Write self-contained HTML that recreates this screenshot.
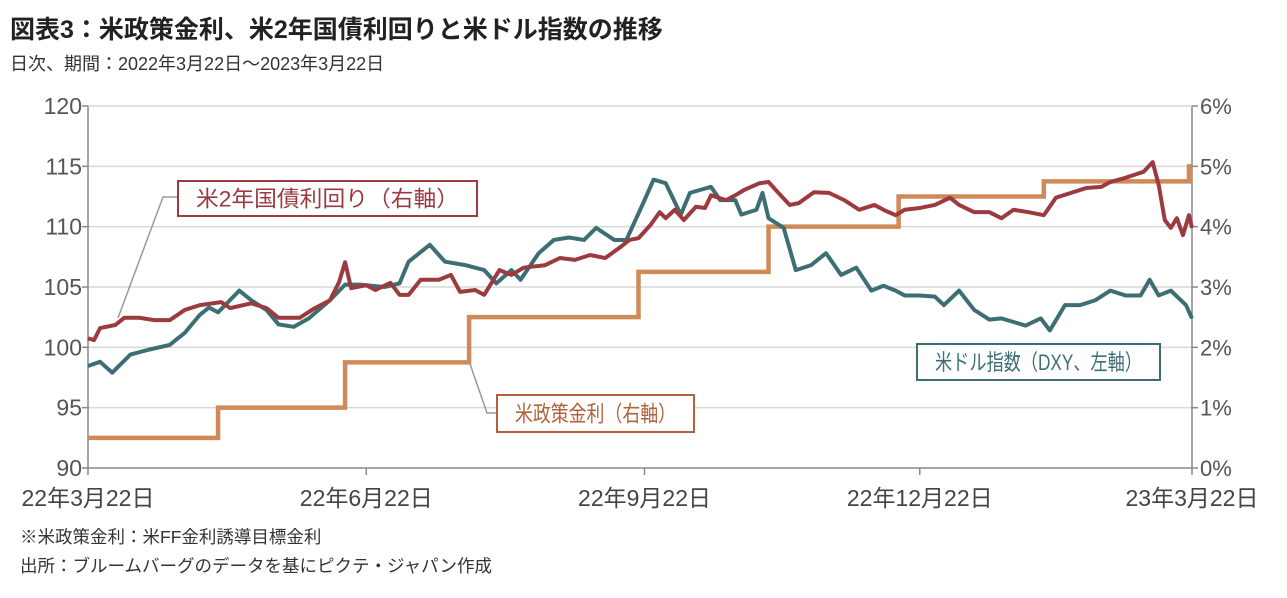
<!DOCTYPE html>
<html><head><meta charset="utf-8"><style>
body{margin:0;background:#fff;font-family:"Liberation Sans","Noto Sans CJK JP",sans-serif;}
svg text{font-family:"Liberation Sans","Noto Sans CJK JP",sans-serif;}
</style></head><body>
<svg id="c" width="1287" height="593" xmlns="http://www.w3.org/2000/svg">
<text x="10" y="38" font-size="25" font-weight="bold" fill="#222">図表3：米政策金利、米2年国債利回りと米ドル指数の推移</text>
<text x="10" y="70" font-size="18" fill="#333">日次、期間：2022年3月22日～2023年3月22日</text>
<text x="20" y="543" font-size="17.5" fill="#333">※米政策金利：米FF金利誘導目標金利</text>
<text x="20" y="572" font-size="17.5" fill="#333">出所：ブルームバーグのデータを基にピクテ・ジャパン作成</text>
<g id="grid"></g><g id="axes"></g><g id="series"></g><g id="ann"></g>
</svg>
<script>
const leftTicks=[90,95,100,105,110,115,120];
const rightTicks=[0,1,2,3,4,5,6];
const xTickDays=[0,92,184,275,365];
const xTickLabels=["22年3月22日","22年6月22日","22年9月22日","22年12月22日","23年3月22日"];
const dxyDays=[0,4,8,14,20,27,32,37,40,43,50,54,59,63,68,73,80,85,90,98,103,106,113,118,125,128,131,135,140,143,149,154,159,164,168,174,178,184,187,191,196,199,206,209,214,216,221,223,225,230,234,239,244,249,254,259,263,267,270,275,280,283,288,293,298,302,306,310,315,318,323,328,333,338,343,348,351,354,358,363,365];
const dxyValues=[98.45,98.8,97.9,99.4,99.8,100.2,101.2,102.7,103.3,102.9,104.7,103.9,103.1,101.9,101.7,102.4,103.9,105.2,105.2,105.0,105.3,107.1,108.5,107.1,106.8,106.6,106.4,105.3,106.4,105.6,107.8,108.9,109.1,108.9,109.9,108.9,108.9,112.2,113.9,113.6,111.0,112.8,113.3,112.2,112.2,111.0,111.4,112.8,110.7,109.9,106.4,106.8,107.8,106.0,106.6,104.7,105.1,104.7,104.3,104.3,104.2,103.5,104.7,103.1,102.3,102.4,102.1,101.8,102.4,101.4,103.5,103.5,103.9,104.7,104.3,104.3,105.6,104.3,104.7,103.5,102.4];
const ustDays=[0,2,4,9,12,17,22,27,32,37,44,47,54,59,63,70,75,80,83,85,87,92,95,100,103,106,110,116,120,123,128,131,136,140,144,151,156,161,166,171,176,179,182,186,189,191,194,197,201,204,206,211,214,217,222,225,229,232,235,240,245,250,255,260,263,267,270,275,280,285,288,293,298,302,306,311,316,320,325,330,335,338,343,346,349,352,354,356,358,360,362,364,365];
const ustValues=[2.15,2.12,2.32,2.37,2.49,2.49,2.45,2.45,2.62,2.70,2.75,2.65,2.73,2.65,2.49,2.49,2.65,2.78,3.08,3.41,2.98,3.03,2.95,3.07,2.87,2.87,3.12,3.12,3.20,2.92,2.95,2.87,3.28,3.20,3.32,3.36,3.48,3.45,3.53,3.48,3.66,3.78,3.81,4.03,4.24,4.14,4.28,4.11,4.33,4.31,4.52,4.44,4.52,4.61,4.72,4.74,4.52,4.36,4.39,4.57,4.56,4.44,4.28,4.36,4.28,4.19,4.28,4.31,4.36,4.48,4.36,4.24,4.24,4.14,4.28,4.24,4.19,4.48,4.56,4.64,4.66,4.74,4.81,4.86,4.91,5.07,4.69,4.11,3.98,4.14,3.86,4.19,3.98];
const fedDays=[0,43,85,126,182,225,268,316,364,365];
const fedValues=[0.5,1.0,1.75,2.5,3.25,4.0,4.5,4.75,5.0,5.0];

const NS="http://www.w3.org/2000/svg";
const X0=88,X1=1192,Y0=468,Y1=106;
const xs=d=>X0+(X1-X0)*d/365;
const yl=v=>Y0-(Y0-Y1)*(v-90)/30;
const yr=v=>Y0-(Y0-Y1)*v/6;
function mk(tag,attrs,parent){const e=document.createElementNS(NS,tag);for(const k in attrs)e.setAttribute(k,attrs[k]);parent.appendChild(e);return e;}
const grid=document.getElementById('grid'),axes=document.getElementById('axes'),ser=document.getElementById('series'),ann=document.getElementById('ann');
leftTicks.forEach((t,i)=>{const y=yl(t);
 if(t>90){const g=mk('line',{x1:X0,x2:X1,y1:y,y2:y,stroke:'#d9d9d9','stroke-width':1.5},grid);
 
 }
 mk('line',{x1:X0-6,x2:X0,y1:y,y2:y,stroke:'#888','stroke-width':1.5},axes);
 const tx=mk('text',{x:X0-6,y:y+8,'text-anchor':'end','font-size':23,fill:'#555'},axes);tx.textContent=t;
 
 });
rightTicks.forEach(t=>{const y=yr(t);
 mk('line',{x1:X1,x2:X1+6,y1:y,y2:y,stroke:'#888','stroke-width':1.5},axes);
 const tx=mk('text',{x:X1+8,y:y+8,'font-size':22,fill:'#555'},axes);tx.textContent=t+'%';
 
 });
mk('line',{x1:X0,x2:X0,y1:Y1,y2:Y0,stroke:'#888','stroke-width':1.5},axes);
mk('line',{x1:X1,x2:X1,y1:Y1,y2:Y0,stroke:'#888','stroke-width':1.5},axes);
mk('line',{x1:X0,x2:X1,y1:Y0,y2:Y0,stroke:'#888','stroke-width':1.5},axes);
xTickDays.forEach((d,i)=>{const x=xs(d);
 mk('line',{x1:x,x2:x,y1:Y0,y2:Y0+7,stroke:'#888','stroke-width':1.5},axes);
 const tx=mk('text',{x:x,y:506,'text-anchor':'middle','font-size':23,fill:'#444'},axes);tx.textContent=xTickLabels[i];
 
 });
let fp='';fedDays.forEach((d,i)=>{const x=xs(d),y=yr(fedValues[i]);if(i===0)fp+=`M${x},${y}`;else fp+=`H${x}V${y}`;});
const f=mk('path',{d:fp,fill:'none',stroke:'#d08a5a','stroke-width':4.5},ser);


const dp=mk('path',{d:dxyDays.map((d,i)=>(i?'L':'M')+xs(d)+','+yl(dxyValues[i])).join(''),fill:'none',stroke:'#3d6e73','stroke-width':4,'stroke-linejoin':'round'},ser);


const up=mk('path',{d:ustDays.map((d,i)=>(i?'L':'M')+xs(d)+','+yr(ustValues[i])).join(''),fill:'none',stroke:'#9b3a3f','stroke-width':4,'stroke-linejoin':'round'},ser);


function box(x,y,w,h,col,txt,name){
 const g=mk('g',{},ann);
 
 
 mk('rect',{x:x,y:y,width:w,height:h,fill:'#fff',stroke:col,'stroke-width':2},g);
 const t=mk('text',{x:x+18,y:y+h/2+8,'font-size':22,fill:col,textLength:w-36,lengthAdjust:'spacingAndGlyphs'},g);t.textContent=txt;}
mk('polyline',{points:'178,197 163,197 118,318',fill:'none',stroke:'#999','stroke-width':1.5},ann);
mk('polyline',{points:'497,413 487,413 470,364',fill:'none',stroke:'#999','stroke-width':1.5},ann);
box(178,181,299,35,'#9b3a3f','米2年国債利回り（右軸）','ust2y-label');
box(497,395,197,37,'#b0603a','米政策金利（右軸）','fed-rate-label');
box(917,344,243,36,'#3d6e73','米ドル指数（DXY、左軸）','dxy-label');
</script>
</body></html>
